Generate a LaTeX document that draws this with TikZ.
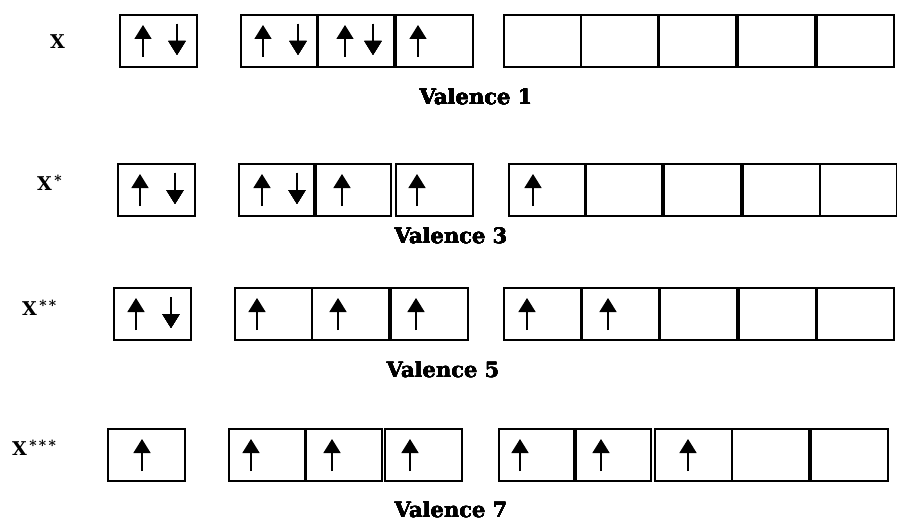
\documentclass[tikz,border=0pt]{standalone}
\usepackage{fontspec}
\setmainfont{DejaVu Serif}
\usetikzlibrary{arrows.meta}

% electron arrows, #1 = x of the arrow, #2 = top of its box
\newcommand{\spinup}[2]{\draw[spin] (#1,#2+43) -- (#1,#2+11);}
\newcommand{\spindn}[2]{\draw[spin] (#1,#2+10) -- (#1,#2+41);}
% raised star marks of the excited atom
\newcommand{\exc}[1]{\raisebox{5pt}{\fontsize{14}{14}\selectfont #1}}

\begin{document}
\begin{tikzpicture}[
  x=1pt, y=-1pt,
  every node/.style={font=\bfseries\fontsize{21}{24}\selectfont},
  orb/.style={rectangle, draw, line width=1.7pt, anchor=north west,
              minimum width=77pt, minimum height=52pt, inner sep=0pt},
  spin/.style={-{Triangle[width=17pt,length=14pt]}, line width=1.6pt},
  atom/.style={anchor=west, inner sep=0pt, font=\bfseries\fontsize{19}{22}\selectfont},
  valence/.style={inner sep=0pt}
]
\useasboundingbox (0,0) rectangle (897,524);

% ground state
\node[atom] (x0) at (50,42) {X};
\foreach \x [count=\i] in {119,240,316,395,503,580,658,737,816}
  \node[orb] (a\i) at (\x,14) {};
\foreach \x in {143,263,345,418} \spinup{\x}{14}
\foreach \x in {177,298,373} \spindn{\x}{14}
\node[valence] (v1) at (476,97) {Valence 1};

% first excited state
\node[atom] (x1) at (37,183) {X\exc{\,*}};
\foreach \x [count=\i] in {117,238,313,395,508,584,663,742,819}
  \node[orb] (b\i) at (\x,163) {};
\foreach \x in {140,262,342,417,533} \spinup{\x}{163}
\foreach \x in {175,297} \spindn{\x}{163}
\node[valence] (v3) at (451,236) {Valence 3};

% second excited state
\node[atom] (x2) at (22,308) {X\exc{\,*\,*}};
\foreach \x [count=\i] in {113,234,311,390,503,581,659,738,816}
  \node[orb] (c\i) at (\x,287) {};
\foreach \x in {136,257,338,416,527,608} \spinup{\x}{287}
\spindn{171}{287}
\node[valence] (v5) at (443,370) {Valence 5};

% third excited state
\node[atom] (x3) at (12,448) {X\exc{\,*\,*\,*}};
\foreach \x [count=\i] in {107,228,304,384,498,573,654,731,810}
  \node[orb] (d\i) at (\x,428) {};
\foreach \x in {142,251,332,410,520,601,688} \spinup{\x}{428}
\node[valence] (v7) at (451,510) {Valence 7};
\end{tikzpicture}
\end{document}
